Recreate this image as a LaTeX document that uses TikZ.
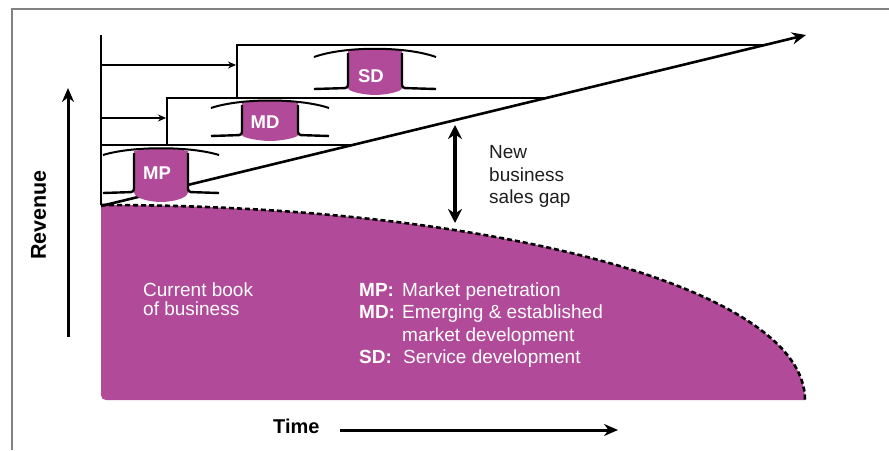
\documentclass[tikz,border=0pt]{standalone}
\usepackage{fontspec}
\setmainfont{Liberation Sans}
\usetikzlibrary{arrows.meta}
\definecolor{bizpurple}{RGB}{178,74,154}
\definecolor{framegray}{RGB}{130,130,130}
\definecolor{inkgray}{RGB}{30,30,30}
\newcommand\bizmarker[7]{% #1 c, #2 w, #3 f, #4 tp, #5 te, #6 bf, #7 bp
  \fill[bizpurple] ({#1-#2},{#4+3}) .. controls ({#1-#2/2},#4) and ({#1+#2/2},#4) .. ({#1+#2},{#4+3})
     -- ({#1+#2},#6) .. controls ({#1+#2},{#7-3}) and ({#1+#2/3},#7) .. (#1,#7)
     .. controls ({#1-#2/3},#7) and ({#1-#2},{#7-3}) .. ({#1-#2},#6) -- cycle;
  \draw[archline] ({#1-#3},#5) .. controls ({#1-#3/2},{#4-2}) and ({#1+#3/2},{#4-2}) .. ({#1+#3},#5);
  \draw[sideline] ({#1-#2},{#4+5}) -- ({#1-#2},#6) -- ({#1-#3},{#6+1});
  \draw[sideline] ({#1+#2},{#4+5}) -- ({#1+#2},#6) -- ({#1+#3},{#6+1});
}
\begin{document}
\begin{tikzpicture}[x=1pt,y=-1pt,
  stepline/.style={line width=2.2pt},
  smallarrow/.style={line width=2pt,-{Stealth[length=8pt,width=7pt]}},
  bigarrow/.style={line width=3pt,-{Stealth[length=14pt,width=12pt]}},
  archline/.style={line width=2pt},
  sideline/.style={line width=2.4pt,rounded corners=3pt},
  txt/.style={inner sep=0pt,anchor=base west,font=\fontsize{19}{22}\selectfont},
  boldtxt/.style={txt,font=\fontsize{19}{22}\selectfont\bfseries},
  markertext/.style={inner sep=0pt,anchor=base,text=white,font=\fontsize{18.5}{22}\selectfont\bfseries}
]
\useasboundingbox (0,0) rectangle (889,450);
% frame
\draw[framegray,line width=1.2pt] (12,450) -- (12,9) -- (889,9);

% current book of business area
\fill[bizpurple] (101,205) .. controls (501,205) and (805,290) .. (805,400)
  -- (106,400) .. controls (103,400) and (101,398) .. (101,395) -- cycle;
\draw[line width=2.6pt,dash pattern=on 5pt off 3pt] (101,205) .. controls (501,205) and (805,290) .. (805,400);

% coordinates
\coordinate (O) at (101,206);
\coordinate (T) at (806,35);
\coordinate (axtop) at (101,35);
\coordinate (axbot) at (101,205);
\coordinate (s1) at (237,45);
\coordinate (s1b) at (237,98);
\coordinate (s2) at (167,98);
\coordinate (s2b) at (167,145);
\coordinate (s3) at (101,145);
\coordinate (h1) at (850,45);
\coordinate (h2) at (850,98);
\coordinate (h3) at (850,145);
\coordinate (i1) at (intersection of O--T and s1--h1);
\coordinate (i2) at (intersection of O--T and s2--h2);
\coordinate (i3) at (intersection of O--T and s3--h3);
\coordinate (a1) at (101,65);
\coordinate (a1e) at (236,65);
\coordinate (a2) at (101,118);
\coordinate (a2e) at (166,118);

% axis and steps
\draw[stepline] (axbot) -- (axtop);
\draw[stepline] (i1) -- (s1) -- (s1b);
\draw[stepline] (i2) -- (s2) -- (s2b);
\draw[stepline] (i3) -- (s3);
\draw[smallarrow] (a1) -- (a1e);
\draw[smallarrow] (a2) -- (a2e);

% growth line
\draw[line width=2.6pt,-{Stealth[length=14pt,width=12pt]}] (O) -- (T);

% markers
\bizmarker{161}{27}{58}{148}{155}{192}{202}
\bizmarker{270}{28}{59}{100}{108}{135}{141}
\bizmarker{375}{27}{61}{48}{57}{88}{95}
\node[markertext] (mp) at (157,179) {MP};
\node[markertext] (md) at (265,128) {MD};
\node[markertext] (sd) at (371,82) {SD};

% gap arrow
\coordinate (gt) at (455,125);
\coordinate (gb) at (455,223);
\draw[line width=4pt,{Stealth[length=14pt,width=14pt]}-{Stealth[length=14pt,width=14pt]}] (gt) -- (gb);
\node[txt,text=inkgray] (new) at (489,158) {New};
\node[txt,text=inkgray] (bus) at (489,181) {business};
\node[txt,text=inkgray] (gap) at (489,203) {sales gap};

% texts in area
\node[txt,text=white] (cb1) at (143,296) {Current book};
\node[txt,text=white] (cb2) at (143,315) {of business};
\node[boldtxt,text=white] (lmp) at (359,296) {MP:};
\node[txt,text=white] (tmp) at (402,296) {Market penetration};
\node[boldtxt,text=white] (lmd) at (359,318) {MD:};
\node[txt,text=white] (tmd1) at (402,318) {Emerging \& established};
\node[txt,text=white] (tmd2) at (402,341) {market development};
\node[boldtxt,text=white] (lsd) at (359,363) {SD:};
\node[txt,text=white] (tsd) at (403,363) {Service development};

% axes arrows
\coordinate (rb) at (68,337);
\coordinate (rt) at (68,88);
\draw[bigarrow] (rb) -- (rt);
\node[rotate=90,inner sep=0pt,font=\fontsize{21.5}{22}\selectfont\bfseries] (rev) at (38.5,215) {Revenue};
\coordinate (tl) at (340,430);
\coordinate (tr) at (618,430);
\draw[bigarrow] (tl) -- (tr);
\node[boldtxt,font=\fontsize{20}{22}\selectfont\bfseries] (time) at (273,433) {Time};
\end{tikzpicture}
\end{document}
